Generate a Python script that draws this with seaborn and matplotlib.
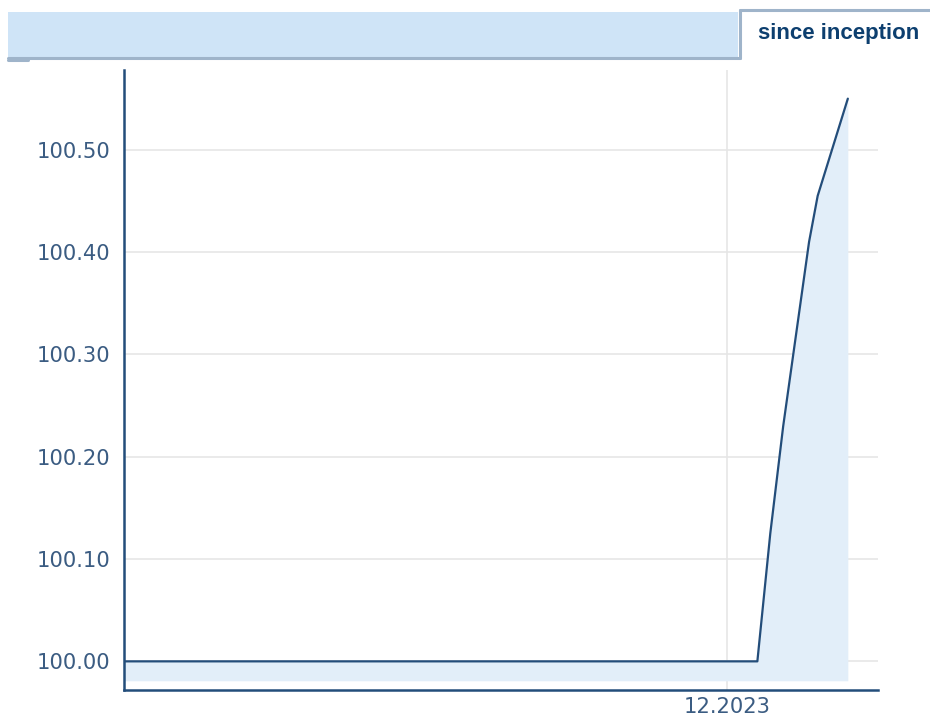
import pandas as pd
import matplotlib.pyplot as plt
import matplotlib.dates as mdates
from matplotlib.patches import Rectangle
from matplotlib.lines import Line2D
import seaborn as sns

# chart data
dates = ["2023-07-14", "2023-12-08", "2023-12-11", "2023-12-14", "2023-12-17",
         "2023-12-20", "2023-12-22", "2023-12-29"]
values = [100.00, 100.00, 100.125, 100.23, 100.32, 100.41, 100.455, 100.55]
y_ticks = [100.00, 100.10, 100.20, 100.30, 100.40, 100.50]
x_ticks = ["2023-12-01"]
tab_label = "since inception"

df = pd.DataFrame({"date": pd.to_datetime(dates), "value": values})

sns.set_style("white")
plt.rcParams['font.family'] = ['DejaVu Sans']

line_col = "#234d7a"
text_col = "#3b5c82"
fill_col = "#e2eef9"

fig = plt.figure(figsize=(9.3, 7.2), dpi=100)
ax = fig.add_axes([124/930, 30/720, 754/930, 620/720])

ax.fill_between(df["date"], 99.981, df["value"], color=fill_col, lw=0, zorder=1)
sns.lineplot(data=df, x="date", y="value", ax=ax, color=line_col, lw=1.6, zorder=3)

ax.set_xlim(pd.Timestamp("2023-07-14"), pd.Timestamp("2024-01-05"))
ax.set_ylim(99.972, 100.578)
ax.set_yticks(y_ticks)
ax.yaxis.set_major_formatter(plt.FuncFormatter(lambda v, p: f"{v:.2f}"))
ax.set_xticks(pd.to_datetime(x_ticks))
ax.xaxis.set_major_formatter(mdates.DateFormatter("%m.%Y"))
ax.set_xlabel("")
ax.set_ylabel("")

ax.grid(True, color="#e6e6e6", lw=1.2, zorder=0)
ax.set_axisbelow(True)
ax.tick_params(axis="both", length=0, labelsize=15.2, colors=text_col)
ax.tick_params(axis="y", pad=10)
ax.tick_params(axis="x", pad=5)
for s in ["top", "right"]:
    ax.spines[s].set_visible(False)
for s in ["left", "bottom"]:
    ax.spines[s].set_color(line_col)
    ax.spines[s].set_linewidth(1.8)

# header band with the tab
fig.patches.append(Rectangle((8/930, 663/720), 730/930, 45/720, transform=fig.transFigure,
                             facecolor="#cfe4f7", edgecolor="none", zorder=0))
fig.lines.append(Line2D([8/930, 740/930], [662/720, 662/720], transform=fig.transFigure,
                        color="#9fb4ca", lw=2.2))
fig.lines.append(Line2D([8/930, 28/930], [660/720, 660/720], transform=fig.transFigure,
                        color="#9fb4ca", lw=2.2))
fig.lines.append(Line2D([740/930, 740/930], [662/720, 710/720], transform=fig.transFigure,
                        color="#9fb4ca", lw=2.2))
fig.lines.append(Line2D([740/930, 930/930], [710/720, 710/720], transform=fig.transFigure,
                        color="#9fb4ca", lw=2.2))
fig.text(839/930, 687/720, tab_label, ha="center", va="center", fontsize=16,
         fontweight="bold", color="#0d3f6f", family=["Liberation Sans", "DejaVu Sans"])

fig.savefig("out.png", dpi=100)
